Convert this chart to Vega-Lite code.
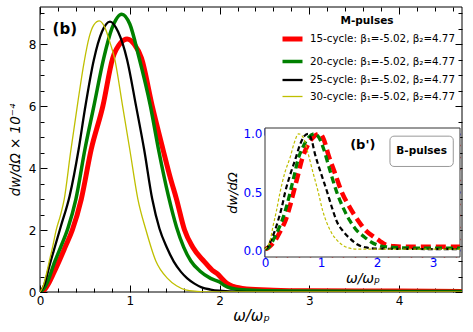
{
  "$schema": "https://vega.github.io/schema/vega-lite/v6.json",
  "width": 422,
  "height": 285,
  "autosize": "none",
  "padding": {"left": 40, "top": 7, "right": 11, "bottom": 40},
  "config": {
    "font": "DejaVu Sans",
    "view": {"stroke": null},
    "axis": {"labelFont": "DejaVu Sans", "titleFont": "DejaVu Sans", "labelFontSize": 12, "titleFontSize": 14, "titleFontWeight": "normal", "titleFontStyle": "italic", "labelColor": "black", "titleColor": "black", "grid": false, "domain": false, "tickWidth": 1, "tickColor": "black", "labelOverlap": false, "labelBound": false, "labelFlush": false}
  },
  "datasets": {
    "main": [
      {"series": "15-cycle: β₁=-5.02, β₂=4.77", "x": 0, "y": 0},
      {"series": "15-cycle: β₁=-5.02, β₂=4.77", "x": 0.05, "y": 0.08},
      {"series": "15-cycle: β₁=-5.02, β₂=4.77", "x": 0.1, "y": 0.3},
      {"series": "15-cycle: β₁=-5.02, β₂=4.77", "x": 0.15, "y": 0.6},
      {"series": "15-cycle: β₁=-5.02, β₂=4.77", "x": 0.21, "y": 0.98},
      {"series": "15-cycle: β₁=-5.02, β₂=4.77", "x": 0.28, "y": 1.45},
      {"series": "15-cycle: β₁=-5.02, β₂=4.77", "x": 0.36, "y": 2.0},
      {"series": "15-cycle: β₁=-5.02, β₂=4.77", "x": 0.46, "y": 3.0},
      {"series": "15-cycle: β₁=-5.02, β₂=4.77", "x": 0.57, "y": 4.6},
      {"series": "15-cycle: β₁=-5.02, β₂=4.77", "x": 0.7, "y": 6.0},
      {"series": "15-cycle: β₁=-5.02, β₂=4.77", "x": 0.81, "y": 7.55},
      {"series": "15-cycle: β₁=-5.02, β₂=4.77", "x": 0.9, "y": 8.05},
      {"series": "15-cycle: β₁=-5.02, β₂=4.77", "x": 0.97, "y": 8.17},
      {"series": "15-cycle: β₁=-5.02, β₂=4.77", "x": 1.05, "y": 8.0},
      {"series": "15-cycle: β₁=-5.02, β₂=4.77", "x": 1.13, "y": 7.55},
      {"series": "15-cycle: β₁=-5.02, β₂=4.77", "x": 1.25, "y": 6.0},
      {"series": "15-cycle: β₁=-5.02, β₂=4.77", "x": 1.37, "y": 4.6},
      {"series": "15-cycle: β₁=-5.02, β₂=4.77", "x": 1.45, "y": 3.7},
      {"series": "15-cycle: β₁=-5.02, β₂=4.77", "x": 1.52, "y": 3.0},
      {"series": "15-cycle: β₁=-5.02, β₂=4.77", "x": 1.61, "y": 2.0},
      {"series": "15-cycle: β₁=-5.02, β₂=4.77", "x": 1.7, "y": 1.45},
      {"series": "15-cycle: β₁=-5.02, β₂=4.77", "x": 1.83, "y": 0.98},
      {"series": "15-cycle: β₁=-5.02, β₂=4.77", "x": 1.92, "y": 0.7},
      {"series": "15-cycle: β₁=-5.02, β₂=4.77", "x": 1.97, "y": 0.6},
      {"series": "15-cycle: β₁=-5.02, β₂=4.77", "x": 2.0, "y": 0.52},
      {"series": "15-cycle: β₁=-5.02, β₂=4.77", "x": 2.03, "y": 0.42},
      {"series": "15-cycle: β₁=-5.02, β₂=4.77", "x": 2.08, "y": 0.28},
      {"series": "15-cycle: β₁=-5.02, β₂=4.77", "x": 2.15, "y": 0.18},
      {"series": "15-cycle: β₁=-5.02, β₂=4.77", "x": 2.3, "y": 0.1},
      {"series": "15-cycle: β₁=-5.02, β₂=4.77", "x": 2.6, "y": 0.06},
      {"series": "15-cycle: β₁=-5.02, β₂=4.77", "x": 3.0, "y": 0.04},
      {"series": "15-cycle: β₁=-5.02, β₂=4.77", "x": 4.0, "y": 0.03},
      {"series": "15-cycle: β₁=-5.02, β₂=4.77", "x": 4.7, "y": 0.02},
      {"series": "20-cycle: β₁=-5.02, β₂=4.77", "x": 0, "y": 0},
      {"series": "20-cycle: β₁=-5.02, β₂=4.77", "x": 0.04, "y": 0.1},
      {"series": "20-cycle: β₁=-5.02, β₂=4.77", "x": 0.08, "y": 0.3},
      {"series": "20-cycle: β₁=-5.02, β₂=4.77", "x": 0.16, "y": 0.95},
      {"series": "20-cycle: β₁=-5.02, β₂=4.77", "x": 0.23, "y": 1.45},
      {"series": "20-cycle: β₁=-5.02, β₂=4.77", "x": 0.31, "y": 2.05},
      {"series": "20-cycle: β₁=-5.02, β₂=4.77", "x": 0.4, "y": 3.0},
      {"series": "20-cycle: β₁=-5.02, β₂=4.77", "x": 0.5, "y": 4.6},
      {"series": "20-cycle: β₁=-5.02, β₂=4.77", "x": 0.6, "y": 6.0},
      {"series": "20-cycle: β₁=-5.02, β₂=4.77", "x": 0.71, "y": 7.55},
      {"series": "20-cycle: β₁=-5.02, β₂=4.77", "x": 0.8, "y": 8.5},
      {"series": "20-cycle: β₁=-5.02, β₂=4.77", "x": 0.91, "y": 8.97},
      {"series": "20-cycle: β₁=-5.02, β₂=4.77", "x": 1.0, "y": 8.65},
      {"series": "20-cycle: β₁=-5.02, β₂=4.77", "x": 1.1, "y": 7.6},
      {"series": "20-cycle: β₁=-5.02, β₂=4.77", "x": 1.23, "y": 6.0},
      {"series": "20-cycle: β₁=-5.02, β₂=4.77", "x": 1.32, "y": 4.6},
      {"series": "20-cycle: β₁=-5.02, β₂=4.77", "x": 1.43, "y": 3.1},
      {"series": "20-cycle: β₁=-5.02, β₂=4.77", "x": 1.52, "y": 2.1},
      {"series": "20-cycle: β₁=-5.02, β₂=4.77", "x": 1.6, "y": 1.45},
      {"series": "20-cycle: β₁=-5.02, β₂=4.77", "x": 1.68, "y": 1.0},
      {"series": "20-cycle: β₁=-5.02, β₂=4.77", "x": 1.78, "y": 0.68},
      {"series": "20-cycle: β₁=-5.02, β₂=4.77", "x": 1.9, "y": 0.44},
      {"series": "20-cycle: β₁=-5.02, β₂=4.77", "x": 2.0, "y": 0.32},
      {"series": "20-cycle: β₁=-5.02, β₂=4.77", "x": 2.05, "y": 0.22},
      {"series": "20-cycle: β₁=-5.02, β₂=4.77", "x": 2.12, "y": 0.13},
      {"series": "20-cycle: β₁=-5.02, β₂=4.77", "x": 2.25, "y": 0.07},
      {"series": "20-cycle: β₁=-5.02, β₂=4.77", "x": 2.5, "y": 0.04},
      {"series": "20-cycle: β₁=-5.02, β₂=4.77", "x": 3.0, "y": 0.03},
      {"series": "20-cycle: β₁=-5.02, β₂=4.77", "x": 4.0, "y": 0.02},
      {"series": "20-cycle: β₁=-5.02, β₂=4.77", "x": 4.7, "y": 0.02},
      {"series": "25-cycle: β₁=-5.02, β₂=4.77", "x": 0, "y": 0},
      {"series": "25-cycle: β₁=-5.02, β₂=4.77", "x": 0.05, "y": 0.25},
      {"series": "25-cycle: β₁=-5.02, β₂=4.77", "x": 0.11, "y": 0.9},
      {"series": "25-cycle: β₁=-5.02, β₂=4.77", "x": 0.17, "y": 1.5},
      {"series": "25-cycle: β₁=-5.02, β₂=4.77", "x": 0.23, "y": 2.1},
      {"series": "25-cycle: β₁=-5.02, β₂=4.77", "x": 0.33, "y": 3.1},
      {"series": "25-cycle: β₁=-5.02, β₂=4.77", "x": 0.43, "y": 4.6},
      {"series": "25-cycle: β₁=-5.02, β₂=4.77", "x": 0.5, "y": 5.9},
      {"series": "25-cycle: β₁=-5.02, β₂=4.77", "x": 0.6, "y": 7.5},
      {"series": "25-cycle: β₁=-5.02, β₂=4.77", "x": 0.69, "y": 8.4},
      {"series": "25-cycle: β₁=-5.02, β₂=4.77", "x": 0.78, "y": 8.73},
      {"series": "25-cycle: β₁=-5.02, β₂=4.77", "x": 0.87, "y": 8.4},
      {"series": "25-cycle: β₁=-5.02, β₂=4.77", "x": 0.97, "y": 7.5},
      {"series": "25-cycle: β₁=-5.02, β₂=4.77", "x": 1.07, "y": 6.0},
      {"series": "25-cycle: β₁=-5.02, β₂=4.77", "x": 1.16, "y": 4.6},
      {"series": "25-cycle: β₁=-5.02, β₂=4.77", "x": 1.25, "y": 3.0},
      {"series": "25-cycle: β₁=-5.02, β₂=4.77", "x": 1.33, "y": 2.05},
      {"series": "25-cycle: β₁=-5.02, β₂=4.77", "x": 1.41, "y": 1.45},
      {"series": "25-cycle: β₁=-5.02, β₂=4.77", "x": 1.49, "y": 0.98},
      {"series": "25-cycle: β₁=-5.02, β₂=4.77", "x": 1.57, "y": 0.65},
      {"series": "25-cycle: β₁=-5.02, β₂=4.77", "x": 1.64, "y": 0.44},
      {"series": "25-cycle: β₁=-5.02, β₂=4.77", "x": 1.72, "y": 0.27},
      {"series": "25-cycle: β₁=-5.02, β₂=4.77", "x": 1.8, "y": 0.15},
      {"series": "25-cycle: β₁=-5.02, β₂=4.77", "x": 1.9, "y": 0.08},
      {"series": "25-cycle: β₁=-5.02, β₂=4.77", "x": 2.0, "y": 0.04},
      {"series": "25-cycle: β₁=-5.02, β₂=4.77", "x": 2.2, "y": 0.01},
      {"series": "25-cycle: β₁=-5.02, β₂=4.77", "x": 2.4, "y": 0.0},
      {"series": "25-cycle: β₁=-5.02, β₂=4.77", "x": 4.7, "y": 0.0},
      {"series": "30-cycle: β₁=-5.02, β₂=4.77", "x": 0, "y": 0},
      {"series": "30-cycle: β₁=-5.02, β₂=4.77", "x": 0.03, "y": 0.15},
      {"series": "30-cycle: β₁=-5.02, β₂=4.77", "x": 0.06, "y": 0.45},
      {"series": "30-cycle: β₁=-5.02, β₂=4.77", "x": 0.1, "y": 0.95},
      {"series": "30-cycle: β₁=-5.02, β₂=4.77", "x": 0.14, "y": 1.45},
      {"series": "30-cycle: β₁=-5.02, β₂=4.77", "x": 0.18, "y": 2.0},
      {"series": "30-cycle: β₁=-5.02, β₂=4.77", "x": 0.23, "y": 2.5},
      {"series": "30-cycle: β₁=-5.02, β₂=4.77", "x": 0.27, "y": 3.0},
      {"series": "30-cycle: β₁=-5.02, β₂=4.77", "x": 0.34, "y": 4.5},
      {"series": "30-cycle: β₁=-5.02, β₂=4.77", "x": 0.42, "y": 6.1},
      {"series": "30-cycle: β₁=-5.02, β₂=4.77", "x": 0.49, "y": 7.4},
      {"series": "30-cycle: β₁=-5.02, β₂=4.77", "x": 0.55, "y": 8.25},
      {"series": "30-cycle: β₁=-5.02, β₂=4.77", "x": 0.6, "y": 8.62},
      {"series": "30-cycle: β₁=-5.02, β₂=4.77", "x": 0.66, "y": 8.75},
      {"series": "30-cycle: β₁=-5.02, β₂=4.77", "x": 0.72, "y": 8.55},
      {"series": "30-cycle: β₁=-5.02, β₂=4.77", "x": 0.78, "y": 8.05},
      {"series": "30-cycle: β₁=-5.02, β₂=4.77", "x": 0.83, "y": 7.55},
      {"series": "30-cycle: β₁=-5.02, β₂=4.77", "x": 0.92, "y": 6.0},
      {"series": "30-cycle: β₁=-5.02, β₂=4.77", "x": 1.0, "y": 4.6},
      {"series": "30-cycle: β₁=-5.02, β₂=4.77", "x": 1.09, "y": 3.0},
      {"series": "30-cycle: β₁=-5.02, β₂=4.77", "x": 1.18, "y": 2.0},
      {"series": "30-cycle: β₁=-5.02, β₂=4.77", "x": 1.29, "y": 1.0},
      {"series": "30-cycle: β₁=-5.02, β₂=4.77", "x": 1.42, "y": 0.44},
      {"series": "30-cycle: β₁=-5.02, β₂=4.77", "x": 1.52, "y": 0.2},
      {"series": "30-cycle: β₁=-5.02, β₂=4.77", "x": 1.62, "y": 0.07},
      {"series": "30-cycle: β₁=-5.02, β₂=4.77", "x": 1.75, "y": 0.02},
      {"series": "30-cycle: β₁=-5.02, β₂=4.77", "x": 1.9, "y": 0.0},
      {"series": "30-cycle: β₁=-5.02, β₂=4.77", "x": 4.7, "y": 0.0}
    ],
    "inset": [
      {"series": "15-cycle", "x": 0, "y": 0.01},
      {"series": "15-cycle", "x": 0.05, "y": 0.02},
      {"series": "15-cycle", "x": 0.1, "y": 0.04},
      {"series": "15-cycle", "x": 0.2, "y": 0.1},
      {"series": "15-cycle", "x": 0.28, "y": 0.17},
      {"series": "15-cycle", "x": 0.36, "y": 0.25},
      {"series": "15-cycle", "x": 0.44, "y": 0.37},
      {"series": "15-cycle", "x": 0.51, "y": 0.5},
      {"series": "15-cycle", "x": 0.58, "y": 0.63},
      {"series": "15-cycle", "x": 0.66, "y": 0.78},
      {"series": "15-cycle", "x": 0.76, "y": 0.9},
      {"series": "15-cycle", "x": 0.88, "y": 0.98},
      {"series": "15-cycle", "x": 0.98, "y": 1.0},
      {"series": "15-cycle", "x": 1.05, "y": 0.95},
      {"series": "15-cycle", "x": 1.13, "y": 0.82},
      {"series": "15-cycle", "x": 1.25, "y": 0.66},
      {"series": "15-cycle", "x": 1.37, "y": 0.5},
      {"series": "15-cycle", "x": 1.5, "y": 0.38},
      {"series": "15-cycle", "x": 1.6, "y": 0.3},
      {"series": "15-cycle", "x": 1.7, "y": 0.23},
      {"series": "15-cycle", "x": 1.82, "y": 0.16},
      {"series": "15-cycle", "x": 1.93, "y": 0.12},
      {"series": "15-cycle", "x": 2.05, "y": 0.08},
      {"series": "15-cycle", "x": 2.15, "y": 0.05},
      {"series": "15-cycle", "x": 2.3, "y": 0.035},
      {"series": "15-cycle", "x": 2.6, "y": 0.03},
      {"series": "15-cycle", "x": 3.0, "y": 0.03},
      {"series": "15-cycle", "x": 3.48, "y": 0.03},
      {"series": "20-cycle", "x": 0, "y": 0.01},
      {"series": "20-cycle", "x": 0.05, "y": 0.02},
      {"series": "20-cycle", "x": 0.1, "y": 0.05},
      {"series": "20-cycle", "x": 0.2, "y": 0.14},
      {"series": "20-cycle", "x": 0.3, "y": 0.25},
      {"series": "20-cycle", "x": 0.38, "y": 0.37},
      {"series": "20-cycle", "x": 0.45, "y": 0.5},
      {"series": "20-cycle", "x": 0.52, "y": 0.64},
      {"series": "20-cycle", "x": 0.59, "y": 0.78},
      {"series": "20-cycle", "x": 0.68, "y": 0.89},
      {"series": "20-cycle", "x": 0.78, "y": 0.97},
      {"series": "20-cycle", "x": 0.88, "y": 1.0},
      {"series": "20-cycle", "x": 0.96, "y": 0.97},
      {"series": "20-cycle", "x": 1.04, "y": 0.88},
      {"series": "20-cycle", "x": 1.15, "y": 0.7},
      {"series": "20-cycle", "x": 1.28, "y": 0.5},
      {"series": "20-cycle", "x": 1.4, "y": 0.36},
      {"series": "20-cycle", "x": 1.52, "y": 0.25},
      {"series": "20-cycle", "x": 1.64, "y": 0.17},
      {"series": "20-cycle", "x": 1.76, "y": 0.12},
      {"series": "20-cycle", "x": 1.9, "y": 0.07},
      {"series": "20-cycle", "x": 2.05, "y": 0.04},
      {"series": "20-cycle", "x": 2.3, "y": 0.025},
      {"series": "20-cycle", "x": 2.6, "y": 0.02},
      {"series": "20-cycle", "x": 3.48, "y": 0.02},
      {"series": "25-cycle", "x": 0, "y": 0.01},
      {"series": "25-cycle", "x": 0.05, "y": 0.03},
      {"series": "25-cycle", "x": 0.1, "y": 0.08},
      {"series": "25-cycle", "x": 0.17, "y": 0.16},
      {"series": "25-cycle", "x": 0.23, "y": 0.25},
      {"series": "25-cycle", "x": 0.3, "y": 0.37},
      {"series": "25-cycle", "x": 0.36, "y": 0.5},
      {"series": "25-cycle", "x": 0.45, "y": 0.65},
      {"series": "25-cycle", "x": 0.54, "y": 0.78},
      {"series": "25-cycle", "x": 0.62, "y": 0.9},
      {"series": "25-cycle", "x": 0.7, "y": 0.98},
      {"series": "25-cycle", "x": 0.77, "y": 1.0},
      {"series": "25-cycle", "x": 0.83, "y": 0.95},
      {"series": "25-cycle", "x": 0.89, "y": 0.83},
      {"series": "25-cycle", "x": 1.0, "y": 0.66},
      {"series": "25-cycle", "x": 1.11, "y": 0.5},
      {"series": "25-cycle", "x": 1.2, "y": 0.36},
      {"series": "25-cycle", "x": 1.28, "y": 0.25},
      {"series": "25-cycle", "x": 1.4, "y": 0.16},
      {"series": "25-cycle", "x": 1.52, "y": 0.1},
      {"series": "25-cycle", "x": 1.65, "y": 0.05},
      {"series": "25-cycle", "x": 1.8, "y": 0.025},
      {"series": "25-cycle", "x": 2.0, "y": 0.015},
      {"series": "25-cycle", "x": 3.48, "y": 0.01},
      {"series": "30-cycle", "x": 0, "y": 0.01},
      {"series": "30-cycle", "x": 0.05, "y": 0.04},
      {"series": "30-cycle", "x": 0.1, "y": 0.1},
      {"series": "30-cycle", "x": 0.14, "y": 0.2},
      {"series": "30-cycle", "x": 0.2, "y": 0.33},
      {"series": "30-cycle", "x": 0.27, "y": 0.5},
      {"series": "30-cycle", "x": 0.35, "y": 0.66},
      {"series": "30-cycle", "x": 0.45, "y": 0.8},
      {"series": "30-cycle", "x": 0.52, "y": 0.92},
      {"series": "30-cycle", "x": 0.6, "y": 1.0},
      {"series": "30-cycle", "x": 0.68, "y": 0.97},
      {"series": "30-cycle", "x": 0.77, "y": 0.83},
      {"series": "30-cycle", "x": 0.85, "y": 0.68},
      {"series": "30-cycle", "x": 0.95, "y": 0.5},
      {"series": "30-cycle", "x": 1.03, "y": 0.34},
      {"series": "30-cycle", "x": 1.1, "y": 0.24},
      {"series": "30-cycle", "x": 1.2, "y": 0.14},
      {"series": "30-cycle", "x": 1.28, "y": 0.09},
      {"series": "30-cycle", "x": 1.4, "y": 0.04},
      {"series": "30-cycle", "x": 1.55, "y": 0.015},
      {"series": "30-cycle", "x": 1.7, "y": 0.01},
      {"series": "30-cycle", "x": 3.48, "y": 0.01}
    ],
    "mainFrame": [{"x0": 0, "x1": 4.7, "y0": 0, "y1": 9.2}],
    "frame": [{"x0": 0, "x1": 3.48, "y0": -0.057, "y1": 1.05}],
    "box": [{"x0": 2.23, "x1": 3.36, "y0": 0.72, "y1": 0.98}],
    "mainLabel": [{"x": 0.14, "y": 8.48, "text": "(b)"}],
    "insetLabel": [{"x": 1.52, "y": 0.9, "text": "(b')"}],
    "boxLabel": [{"x": 2.795, "y": 0.85, "text": "B-pulses"}]
  },
  "resolve": {"scale": {"x": "independent", "y": "independent"}, "axis": {"x": "independent", "y": "independent"}},
  "layer": [
    {
      "data": {"name": "mainFrame"},
      "mark": {"type": "rect", "fill": "white", "fillOpacity": 0, "stroke": "black", "strokeWidth": 1},
      "encoding": {
        "x": {"field": "x0", "type": "quantitative", "scale": {"domain": [0, 4.7], "nice": false, "zero": false},
          "axis": {"orient": "bottom", "title": null, "labels": false, "values": [0.2,0.4,0.6,0.8,1.2,1.4,1.6,1.8,2.2,2.4,2.6,2.8,3.2,3.4,3.6,3.8,4.2,4.4,4.6], "tickSize": -4}},
        "x2": {"field": "x1"},
        "y": {"field": "y0", "type": "quantitative", "scale": {"domain": [0, 9.2], "nice": false, "zero": false},
          "axis": {"orient": "left", "title": null, "labels": false, "values": [0.5,1,1.5,2.5,3,3.5,4.5,5,5.5,6.5,7,7.5,8.5,9], "tickSize": -4}},
        "y2": {"field": "y1"}
      }
    },
    {
      "data": {"name": "main"},
      "mark": {"type": "line", "interpolate": "monotone", "clip": true},
      "encoding": {
        "x": {"field": "x", "type": "quantitative", "scale": {"domain": [0, 4.7], "nice": false, "zero": false},
          "axis": {"orient": "bottom", "labelOverlap": false, "title": "ω/ωₚ", "titleFontSize": 15, "titlePadding": 2, "values": [0, 1, 2, 3, 4], "format": "d", "tickSize": -7, "labelPadding": 10}},
        "y": {"field": "y", "type": "quantitative", "scale": {"domain": [0, 9.2], "nice": false, "zero": false},
          "axis": {"orient": "left", "labelOverlap": false, "title": "dw/dΩ × 10⁻⁴", "titleFontSize": 13.5, "titlePadding": 6, "values": [0, 2, 4, 6, 8], "format": "d", "tickSize": -7, "labelPadding": 11}},
        "color": {"field": "series", "type": "nominal", "scale": {"domain": ["15-cycle: β₁=-5.02, β₂=4.77", "20-cycle: β₁=-5.02, β₂=4.77", "25-cycle: β₁=-5.02, β₂=4.77", "30-cycle: β₁=-5.02, β₂=4.77"], "range": ["#ff0000", "#008000", "#000000", "#bfbf00"]},
          "legend": {"title": "M-pulses", "orient": "none", "legendX": 240, "legendY": 9, "titleFontWeight": "bold", "titleFontSize": 10.5, "titleAnchor": "middle", "titleAlign": "center", "titlePadding": 0, "titleFont": "DejaVu Sans", "labelFont": "DejaVu Sans", "labelFontSize": 10.3, "symbolType": "stroke", "symbolSize": 400, "labelOffset": 5, "rowPadding": -2.5}},
        "strokeWidth": {"field": "series", "type": "nominal", "scale": {"type": "ordinal", "domain": ["15-cycle: β₁=-5.02, β₂=4.77", "20-cycle: β₁=-5.02, β₂=4.77", "25-cycle: β₁=-5.02, β₂=4.77", "30-cycle: β₁=-5.02, β₂=4.77"], "range": [5, 3.5, 2.3, 1.3]},
          "legend": {"title": "M-pulses", "orient": "none", "legendX": 240, "legendY": 9, "titleFontWeight": "bold", "titleFontSize": 10.5, "titleAnchor": "middle", "titleAlign": "center", "titlePadding": 0, "titleFont": "DejaVu Sans", "labelFont": "DejaVu Sans", "labelFontSize": 10.3, "symbolType": "stroke", "symbolSize": 400, "labelOffset": 5, "rowPadding": -2.5}}
      }
    },
    {
      "data": {"name": "mainLabel"},
      "mark": {"type": "text", "align": "left", "baseline": "middle", "fontWeight": "bold", "fontSize": 15, "font": "DejaVu Sans"},
      "encoding": {
        "x": {"field": "x", "type": "quantitative", "scale": {"domain": [0, 4.7], "nice": false, "zero": false},
          "axis": {"orient": "top", "title": null, "labels": false, "values": [0,0.2,0.4,0.6,0.8,1,1.2,1.4,1.6,1.8,2,2.2,2.4,2.6,2.8,3,3.2,3.4,3.6,3.8,4,4.2,4.4,4.6], "tickSize": {"condition": {"test": "datum.value % 1 === 0", "value": -7}, "value": -4}}},
        "y": {"field": "y", "type": "quantitative", "scale": {"domain": [0, 9.2], "nice": false, "zero": false},
          "axis": {"orient": "right", "title": null, "labels": false, "values": [0,0.5,1,1.5,2,2.5,3,3.5,4,4.5,5,5.5,6,6.5,7,7.5,8,8.5,9], "tickSize": {"condition": {"test": "datum.value % 2 === 0", "value": -7}, "value": -4}}},
        "text": {"field": "text"}
      }
    },
    {
      "data": {"name": "frame"},
      "mark": {"type": "rect", "fill": "white", "stroke": "#333333", "strokeWidth": 1},
      "encoding": {
        "x": {"field": "x0", "type": "quantitative", "scale": {"domain": [0, 3.48], "range": [225, 420], "nice": false, "zero": false},
          "axis": {"orient": "bottom", "labelOverlap": false, "offset": -35, "title": "ω/ωₚ", "titleFontSize": 14, "titlePadding": 3, "values": [0, 1, 2, 3], "format": "d", "labelColor": "#0000ff", "tickSize": -7, "tickColor": "#0000ff", "tickWidth": 2, "labelPadding": 7}},
        "x2": {"field": "x1"},
        "y": {"field": "y0", "type": "quantitative", "scale": {"domain": [-0.057, 1.05], "range": [250, 121], "nice": false, "zero": false},
          "axis": {"orient": "left", "labelOverlap": false, "offset": -225, "title": "dw/dΩ", "titleFontSize": 13, "titlePadding": 3, "values": [0, 0.5, 1], "format": ".1f", "labelColor": "#0000ff", "tickSize": -7, "tickColor": "#0000ff", "tickWidth": 2, "labelPadding": 10}},
        "y2": {"field": "y1"}
      }
    },
    {
      "data": {"name": "inset"},
      "transform": [{"filter": {"field": "series", "equal": "15-cycle"}}],
      "mark": {"type": "line", "interpolate": "monotone", "stroke": "#ff0000", "strokeWidth": 4.5, "strokeDash": [10, 5]},
      "encoding": {
        "x": {"field": "x", "type": "quantitative", "scale": {"domain": [0, 3.48], "range": [225, 420], "nice": false, "zero": false},
          "axis": {"orient": "top", "offset": -121, "title": null, "labels": false, "values": [0,0.2,0.4,0.6,0.8,1,1.2,1.4,1.6,1.8,2,2.2,2.4,2.6,2.8,3,3.2,3.4], "tickSize": {"condition": {"test": "datum.value % 1 === 0", "value": -7}, "value": -4}, "tickColor": {"condition": {"test": "datum.value % 1 === 0", "value": "#0000ff"}, "value": "#ff0000"}, "tickWidth": {"condition": {"test": "datum.value % 1 === 0", "value": 2}, "value": 1.5}}},
        "y": {"field": "y", "type": "quantitative", "scale": {"domain": [-0.057, 1.05], "range": [250, 121], "nice": false, "zero": false},
          "axis": {"orient": "right", "offset": -2, "title": null, "labels": false, "values": [0,0.1,0.2,0.3,0.4,0.5,0.6,0.7,0.8,0.9,1], "tickSize": {"condition": {"test": "datum.value === 0 || datum.value === 0.5 || datum.value === 1", "value": -7}, "value": -4}, "tickColor": {"condition": {"test": "datum.value === 0 || datum.value === 0.5 || datum.value === 1", "value": "#0000ff"}, "value": "#ff0000"}, "tickWidth": {"condition": {"test": "datum.value === 0 || datum.value === 0.5 || datum.value === 1", "value": 2}, "value": 1.5}}}
      }
    },
    {
      "data": {"name": "inset"},
      "transform": [{"filter": {"field": "series", "equal": "20-cycle"}}],
      "mark": {"type": "line", "interpolate": "monotone", "stroke": "#008000", "strokeWidth": 3.3, "strokeDash": [7, 4]},
      "encoding": {
        "x": {"field": "x", "type": "quantitative", "scale": {"domain": [0, 3.48], "range": [225, 420], "nice": false, "zero": false},
          "axis": {"orient": "bottom", "offset": -35, "title": null, "labels": false, "values": [0.2,0.4,0.6,0.8,1.2,1.4,1.6,1.8,2.2,2.4,2.6,2.8,3.2,3.4], "tickSize": -4, "tickColor": "#ff0000", "tickWidth": 1.5}},
        "y": {"field": "y", "type": "quantitative", "scale": {"domain": [-0.057, 1.05], "range": [250, 121], "nice": false, "zero": false},
          "axis": {"orient": "left", "offset": -225, "title": null, "labels": false, "values": [0.1,0.2,0.3,0.4,0.6,0.7,0.8,0.9], "tickSize": -4, "tickColor": "#ff0000", "tickWidth": 1.5}}
      }
    },
    {
      "data": {"name": "inset"},
      "transform": [{"filter": {"field": "series", "equal": "25-cycle"}}],
      "mark": {"type": "line", "interpolate": "monotone", "stroke": "#000000", "strokeWidth": 2.2, "strokeDash": [5, 3]},
      "encoding": {
        "x": {"field": "x", "type": "quantitative", "scale": {"domain": [0, 3.48], "range": [225, 420], "nice": false, "zero": false}, "axis": null},
        "y": {"field": "y", "type": "quantitative", "scale": {"domain": [-0.057, 1.05], "range": [250, 121], "nice": false, "zero": false}, "axis": null}
      }
    },
    {
      "data": {"name": "inset"},
      "transform": [{"filter": {"field": "series", "equal": "30-cycle"}}],
      "mark": {"type": "line", "interpolate": "monotone", "stroke": "#bfbf00", "strokeWidth": 1.2, "strokeDash": [3, 2]},
      "encoding": {
        "x": {"field": "x", "type": "quantitative", "scale": {"domain": [0, 3.48], "range": [225, 420], "nice": false, "zero": false}, "axis": null},
        "y": {"field": "y", "type": "quantitative", "scale": {"domain": [-0.057, 1.05], "range": [250, 121], "nice": false, "zero": false}, "axis": null}
      }
    },
    {
      "data": {"name": "box"},
      "mark": {"type": "rect", "fill": "white", "stroke": "#999999", "strokeWidth": 1, "cornerRadius": 4},
      "encoding": {
        "x": {"field": "x0", "type": "quantitative", "scale": {"domain": [0, 3.48], "range": [225, 420], "nice": false, "zero": false}, "axis": null},
        "x2": {"field": "x1"},
        "y": {"field": "y0", "type": "quantitative", "scale": {"domain": [-0.057, 1.05], "range": [250, 121], "nice": false, "zero": false}, "axis": null},
        "y2": {"field": "y1"}
      }
    },
    {
      "data": {"name": "insetLabel"},
      "mark": {"type": "text", "align": "left", "baseline": "middle", "fontWeight": "bold", "fontSize": 13, "font": "DejaVu Sans"},
      "encoding": {
        "x": {"field": "x", "type": "quantitative", "scale": {"domain": [0, 3.48], "range": [225, 420], "nice": false, "zero": false}, "axis": null},
        "y": {"field": "y", "type": "quantitative", "scale": {"domain": [-0.057, 1.05], "range": [250, 121], "nice": false, "zero": false}, "axis": null},
        "text": {"field": "text"}
      }
    },
    {
      "data": {"name": "boxLabel"},
      "mark": {"type": "text", "align": "center", "baseline": "middle", "fontWeight": "bold", "fontSize": 10.5, "font": "DejaVu Sans"},
      "encoding": {
        "x": {"field": "x", "type": "quantitative", "scale": {"domain": [0, 3.48], "range": [225, 420], "nice": false, "zero": false}, "axis": null},
        "y": {"field": "y", "type": "quantitative", "scale": {"domain": [-0.057, 1.05], "range": [250, 121], "nice": false, "zero": false}, "axis": null},
        "text": {"field": "text"}
      }
    }
  ]
}
